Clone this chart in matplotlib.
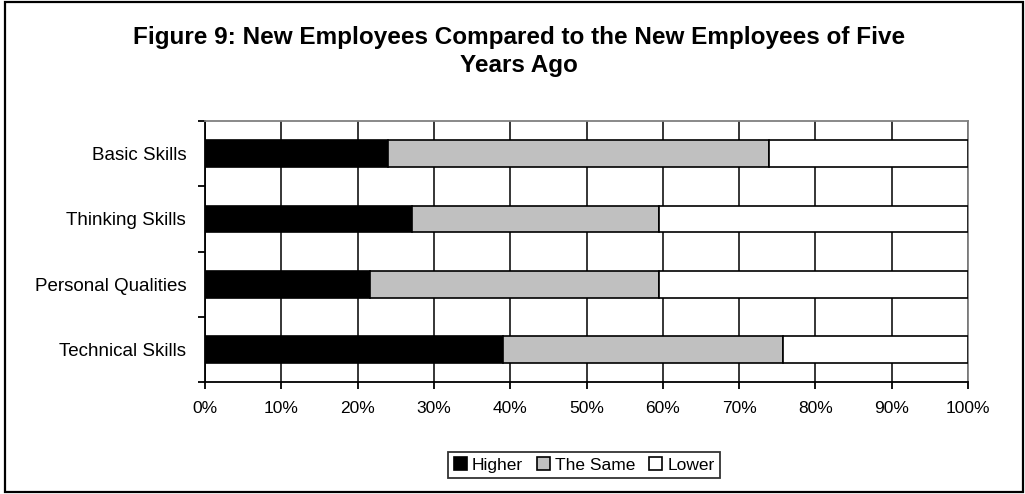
import matplotlib.pyplot as plt
from matplotlib.patches import Rectangle

plt.rcParams["font.family"] = ["Liberation Sans", "DejaVu Sans"]

categories = ["Basic Skills", "Thinking Skills", "Personal Qualities", "Technical Skills"]
higher = [24.0, 27.1, 21.6, 39.1]
same = [49.9, 32.4, 37.9, 36.7]
lower = [26.1, 40.5, 40.5, 24.2]
series_names = ["Higher", "The Same", "Lower"]
series_colors = ["#000000", "#C0C0C0", "#FFFFFF"]
xtick_values = list(range(0, 101, 10))
xtick_labels = [f"{v}%" for v in xtick_values]


def main():
    fig = plt.figure(figsize=(10.25, 4.94), dpi=100)
    ax = fig.add_axes([0.2, 0.2267, 0.7444, 0.5283])

    # categories top to bottom
    pos = list(range(len(categories)))[::-1]
    left = [0.0] * len(categories)
    for name, vals, col in zip(series_names, [higher, same, lower], series_colors):
        ax.barh(pos, vals, left=left, height=0.41, color=col,
                edgecolor="black", linewidth=1.2, label=name, zorder=3)
        left = [a + b for a, b in zip(left, vals)]

    ax.set_xlim(0, 100)
    ax.set_ylim(-0.5, len(categories) - 0.5)
    ax.set_xticks(xtick_values)
    ax.set_xticklabels(xtick_labels, fontsize=12.5)
    ax.set_yticks(pos)
    ax.set_yticklabels(categories, fontsize=13.5)
    ax.tick_params(axis="y", length=0, pad=13.5)
    ax.set_yticks([i - 0.5 for i in range(len(categories) + 1)], minor=True)
    ax.tick_params(axis="y", which="minor", length=5, width=1.3, direction="out")
    ax.tick_params(axis="x", length=5, width=1.3, direction="out", pad=9)

    ax.xaxis.grid(True, color="black", linewidth=1.1, zorder=0)
    ax.set_axisbelow(True)
    for side in ["left", "bottom"]:
        ax.spines[side].set_linewidth(1.3)
        ax.spines[side].set_color("black")
    for side in ["top", "right"]:
        ax.spines[side].set_linewidth(1.3)
        ax.spines[side].set_color("#808080")

    fig.text(0.506, 0.896, "Figure 9: New Employees Compared to the New Employees of Five\nYears Ago",
             ha="center", va="center", fontsize=17.5, fontweight="bold", linespacing=1.25)

    leg = fig.legend(loc="center", bbox_to_anchor=(0.57, 0.059), ncol=3, fontsize=12.5,
                     frameon=True, fancybox=False, handlelength=0.75, handleheight=0.75,
                     handletextpad=0.3, columnspacing=0.8, borderpad=0.3)
    leg.get_frame().set_edgecolor("black")
    leg.get_frame().set_linewidth(1.3)

    # outer chart border
    fig.patches.append(Rectangle((0.005, 0.004), 0.993, 0.992, transform=fig.transFigure,
                                 fill=False, edgecolor="black", linewidth=1.6))

    fig.savefig("out.png", dpi=100)


if __name__ == "__main__":
    main()
